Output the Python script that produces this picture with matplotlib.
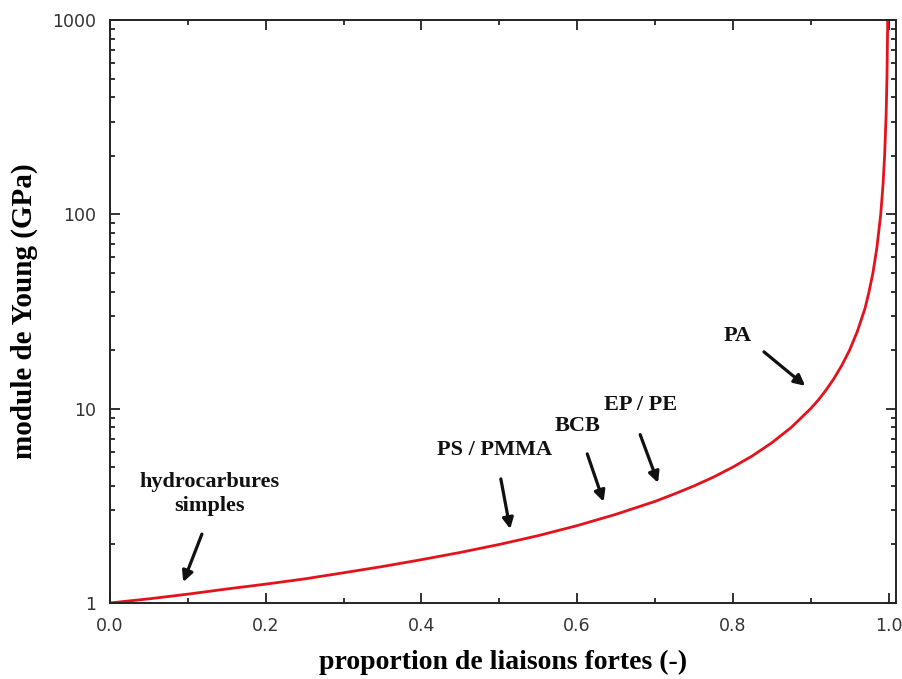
import matplotlib
matplotlib.use("Agg")
import matplotlib.pyplot as plt
import matplotlib.ticker as mticker
import numpy as np

# Young's modulus versus fraction of strong bonds
proportion = [0.0, 0.05, 0.1, 0.15, 0.2, 0.25, 0.3, 0.35, 0.4, 0.45, 0.5, 0.55,
              0.6, 0.65, 0.7, 0.725, 0.75, 0.775, 0.8, 0.825, 0.85, 0.875, 0.9,
              0.91, 0.92, 0.93, 0.94, 0.95, 0.96, 0.97, 0.975, 0.98, 0.985, 0.99,
              0.993, 0.995, 0.997, 0.998, 0.999]
module = [1.0, 1.05, 1.11, 1.18, 1.25, 1.33, 1.43, 1.54, 1.67, 1.82, 2.0, 2.22,
          2.5, 2.86, 3.33, 3.64, 4.0, 4.44, 5.0, 5.71, 6.67, 8.0, 10.0,
          11.1, 12.5, 14.3, 16.7, 20.0, 25.0, 33.0, 40.0, 50.0, 67.0, 100.0,
          143.0, 200.0, 333.0, 500.0, 1000.0]

x_ticks = [0.0, 0.2, 0.4, 0.6, 0.8, 1.0]
x_tick_labels = ["0.0", "0.2", "0.4", "0.6", "0.8", "1.0"]
y_ticks = [1, 10, 100, 1000]
y_tick_labels = ["1", "10", "100", "1000"]

# material annotations: label, label position, arrow tail, arrow tip
labels = ["hydrocarbures\nsimples", "PS / PMMA", "BCB", "EP / PE", "PA"]
label_pos = [(0.128, 3.65), (0.494, 6.15), (0.600, 8.1), (0.682, 10.45), (0.806, 23.6)]
arrow_tail = [(0.118, 2.26), (0.502, 4.35), (0.613, 5.85), (0.681, 7.35), (0.840, 19.6)]
arrow_tip = [(0.094, 1.28), (0.514, 2.40), (0.634, 3.32), (0.704, 4.15), (0.893, 13.1)]

serif_bold = dict(family="Liberation Serif", weight="bold")

fig = plt.figure(figsize=(9.02, 6.79), dpi=100)
ax = fig.add_axes([0.122, 0.112, 0.8715, 0.8585])

ax.plot(proportion, module, color="#e3121b", lw=2.0, solid_joinstyle="round")

ax.set_yscale("log")
ax.set_xlim(0.0, 1.0098)
ax.set_ylim(1, 1000)

ax.set_xticks(x_ticks)
ax.set_xticklabels(x_tick_labels)
ax.xaxis.set_minor_locator(mticker.MultipleLocator(0.1))
ax.set_yticks(y_ticks)
ax.set_yticklabels(y_tick_labels)
ax.yaxis.set_minor_locator(mticker.LogLocator(base=10, subs=np.arange(2, 10)))
ax.yaxis.set_minor_formatter(mticker.NullFormatter())

ax.tick_params(which="both", direction="in", top=True, right=True,
               colors="#222222", width=1.3)
ax.tick_params(which="major", length=7, pad=10, labelsize=12.5)
ax.tick_params(which="minor", length=3.5)
for lab in ax.get_xticklabels() + ax.get_yticklabels():
    lab.set_family("DejaVu Sans")
    lab.set_color("#333333")
for sp in ax.spines.values():
    sp.set_linewidth(1.4)
    sp.set_color("#222222")

ax.set_xlabel("proportion de liaisons fortes (-)", fontsize=20, labelpad=11, **serif_bold)
ax.set_ylabel("module de Young (GPa)", fontsize=21, labelpad=10, **serif_bold)

for text, pos, tail, tip in zip(labels, label_pos, arrow_tail, arrow_tip):
    ax.text(pos[0], pos[1], text, ha="center", va="center", fontsize=16,
            linespacing=1.25, color="#111111", **serif_bold)
    ax.annotate("", xy=tip, xytext=tail,
                arrowprops=dict(arrowstyle="-|>", lw=2.3, color="#111111",
                                mutation_scale=16, shrinkA=0, shrinkB=0))

fig.savefig("out.png", dpi=100, facecolor="white")
